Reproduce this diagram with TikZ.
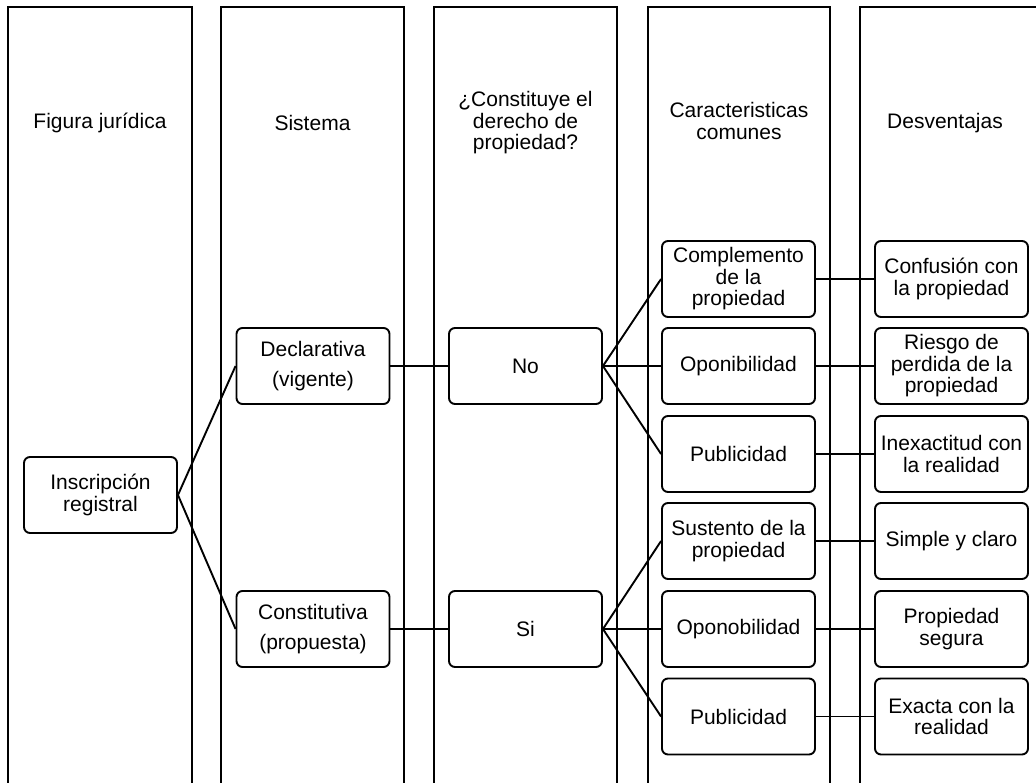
\documentclass[tikz,border=0pt]{standalone}
\usepackage{fontspec}
\setmainfont{Liberation Sans}
\begin{document}
\begin{tikzpicture}[x=1pt,y=-1pt,
  lane/.style={line width=1.2pt,line join=miter},
  header/.style={align=center,font=\fontsize{21}{21.5}\selectfont,inner sep=0pt},
  card/.style={draw,line width=1.9pt,rounded corners=6pt,minimum width=153pt,minimum height=76pt,
    inner sep=0pt,align=center,font=\fontsize{21}{21.5}\selectfont},
  link/.style={line width=1.9pt}]
\useasboundingbox (0,0) rectangle (1036,782);
\clip (0,0) rectangle (1036,782);

% swim lanes, open at the bottom
\draw[lane] (8,800) -- (8,7) -- (192,7) -- (192,800);
\draw[lane] (221,800) -- (221,7) -- (404,7) -- (404,800);
\draw[lane] (434,800) -- (434,7) -- (617,7) -- (617,800);
\draw[lane] (648,800) -- (648,7) -- (830,7) -- (830,800);
\draw[lane] (860,800) -- (860,7) -- (1040,7);

% lane headers
\node[header] (h1) at (100,123) {Figura jurídica};
\node[header] (h2) at (312.5,123) {Sistema};
\node[header] (h3) at (525.5,123) {¿Constituye el\\derecho de\\propiedad?};
\node[header] (h4) at (739,121) {Caracteristicas\\comunes};
\node[header] (h5) at (945,123) {Desventajas};

% boxes
\node[card] (ins) at (100.5,495) {Inscripción\\registral};
\node[card] (dec) at (313,366) {Declarativa\\[9pt](vigente)};
\node[card] (con) at (313,629) {Constitutiva\\[9pt](propuesta)};
\node[card] (no) at (525.5,366) {No};
\node[card] (si) at (525.5,629) {Si};

\node[card] (c1) at (738.5,279) {Complemento\\de la\\propiedad};
\node[card] (c2) at (738.5,366) {Oponibilidad};
\node[card] (c3) at (738.5,454) {Publicidad};
\node[card] (c4) at (738.5,541) {Sustento de la\\propiedad};
\node[card] (c5) at (738.5,629) {Oponobilidad};
\node[card] (c6) at (738.5,716.5) {Publicidad};

\node[card] (d1) at (951.5,279) {Confusión con\\la propiedad};
\node[card] (d2) at (951.5,366) {Riesgo de\\perdida de la\\propiedad};
\node[card] (d3) at (951.5,454) {Inexactitud con\\la realidad};
\node[card] (d4) at (951.5,541) {Simple y claro};
\node[card] (d5) at (951.5,629) {Propiedad\\segura};
\node[card] (d6) at (951.5,716.5) {Exacta con la\\realidad};

% connectors
\draw[link] (ins.east) -- (dec.west);
\draw[link] (ins.east) -- (con.west);
\draw[link] (dec.east) -- (no.west);
\draw[link] (con.east) -- (si.west);
\foreach \c in {c1,c2,c3} \draw[link] (no.east) -- (\c.west);
\foreach \c in {c4,c5,c6} \draw[link] (si.east) -- (\c.west);
\foreach \i in {1,...,6} \draw[link] (c\i.east) -- (d\i.west);
\end{tikzpicture}
\end{document}
